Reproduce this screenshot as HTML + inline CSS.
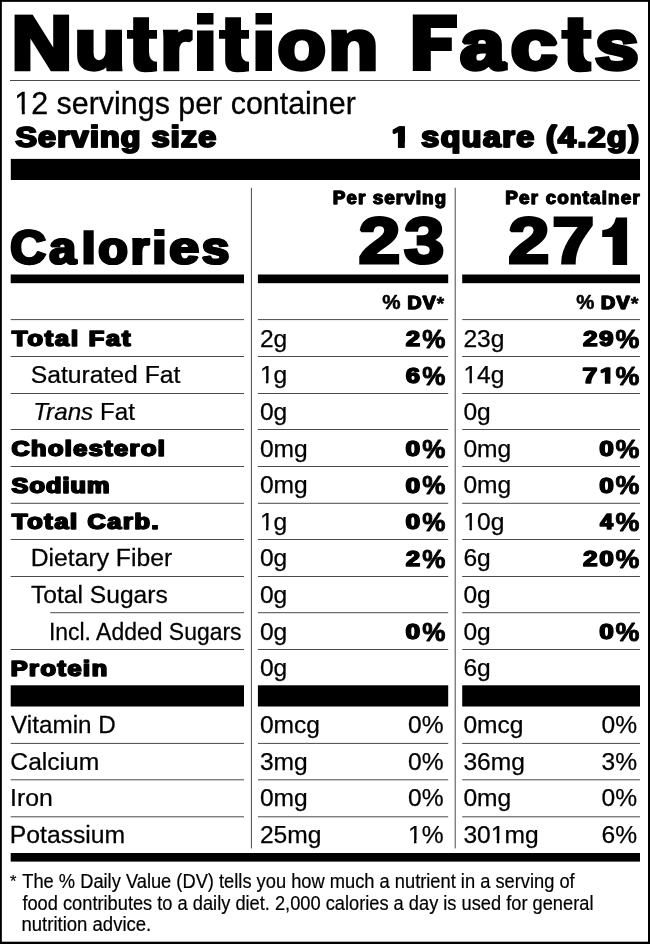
<!DOCTYPE html>
<html lang="en"><head><meta charset="utf-8"><title>Nutrition Facts</title>
<style>html,body{margin:0;padding:0;background:#fff}body{width:650px;height:944px;overflow:hidden}svg{display:block;will-change:transform;filter:grayscale(1);font-family:"Liberation Sans",sans-serif}text{fill:#000;stroke:#000;stroke-linejoin:miter;stroke-miterlimit:1.5;white-space:pre}</style></head><body>
<svg width="650" height="944" viewBox="0 0 650 944">
<rect x="0" y="0" width="650" height="944" fill="#fff"/>
<g fill="#000">
<rect x="0" y="0" width="650" height="1.85"/>
<rect x="0" y="0" width="1.85" height="944"/>
<rect x="648" y="0" width="2" height="944"/>
<rect x="0" y="941.7" width="650" height="2.3"/>
<rect x="10.8" y="158.9" width="629.2" height="21.1"/>
<rect x="10.7" y="274.5" width="233.3" height="8.7"/>
<rect x="257.9" y="274.5" width="190.3" height="8.7"/>
<rect x="462.2" y="274.5" width="177.8" height="8.7"/>
<rect x="10.7" y="685.3" width="233.3" height="21.2"/>
<rect x="257.9" y="685.3" width="190.3" height="21.2"/>
<rect x="462.2" y="685.3" width="177.8" height="21.2"/>
<rect x="10.7" y="853" width="629.3" height="8.6"/>
</g>
<g fill="#4a4a4a">
<rect x="10" y="80" width="630" height="1"/>
<rect x="250.9" y="187.8" width="1" height="660.6"/>
<rect x="454.7" y="187.8" width="1" height="660.6"/>
<rect x="10.7" y="319.1" width="233.3" height="1"/>
<rect x="257.9" y="319.1" width="190.3" height="1"/>
<rect x="462.2" y="319.1" width="177.8" height="1"/>
<rect x="10.7" y="356" width="233.3" height="1"/>
<rect x="257.9" y="356" width="190.3" height="1"/>
<rect x="462.2" y="356" width="177.8" height="1"/>
<rect x="10.7" y="393" width="233.3" height="1"/>
<rect x="257.9" y="393" width="190.3" height="1"/>
<rect x="462.2" y="393" width="177.8" height="1"/>
<rect x="10.7" y="429" width="233.3" height="1"/>
<rect x="257.9" y="429" width="190.3" height="1"/>
<rect x="462.2" y="429" width="177.8" height="1"/>
<rect x="10.7" y="466" width="233.3" height="1"/>
<rect x="257.9" y="466" width="190.3" height="1"/>
<rect x="462.2" y="466" width="177.8" height="1"/>
<rect x="10.7" y="502.8" width="233.3" height="1"/>
<rect x="257.9" y="502.8" width="190.3" height="1"/>
<rect x="462.2" y="502.8" width="177.8" height="1"/>
<rect x="10.7" y="539" width="233.3" height="1"/>
<rect x="257.9" y="539" width="190.3" height="1"/>
<rect x="462.2" y="539" width="177.8" height="1"/>
<rect x="10.7" y="576" width="233.3" height="1"/>
<rect x="257.9" y="576" width="190.3" height="1"/>
<rect x="462.2" y="576" width="177.8" height="1"/>
<rect x="50.2" y="612.2" width="193.8" height="1"/>
<rect x="257.9" y="612.2" width="190.3" height="1"/>
<rect x="462.2" y="612.2" width="177.8" height="1"/>
<rect x="10.7" y="649" width="233.3" height="1"/>
<rect x="257.9" y="649" width="190.3" height="1"/>
<rect x="462.2" y="649" width="177.8" height="1"/>
<rect x="10.7" y="742.9" width="233.3" height="1"/>
<rect x="257.9" y="742.9" width="190.3" height="1"/>
<rect x="462.2" y="742.9" width="177.8" height="1"/>
<rect x="10.7" y="779.3" width="233.3" height="1"/>
<rect x="257.9" y="779.3" width="190.3" height="1"/>
<rect x="462.2" y="779.3" width="177.8" height="1"/>
<rect x="10.7" y="816.3" width="233.3" height="1"/>
<rect x="257.9" y="816.3" width="190.3" height="1"/>
<rect x="462.2" y="816.3" width="177.8" height="1"/>
</g>
<g id="tl0" class="t" clip-path="url(#ctl0)"><text transform="translate(11.52 68.6) scale(1.114 1)" font-size="75.4" font-weight="bold" stroke-width="4.6" letter-spacing="1">N</text></g>
<g id="tl1" class="t" clip-path="url(#ctl1)"><text transform="translate(74.62 68.6) scale(1.1027 0.925)" font-size="75.4" font-weight="bold" stroke-width="4.6" letter-spacing="1">u</text></g>
<g id="tl2" class="t" clip-path="url(#ctl2)"><text transform="translate(128.48 68.6) scale(1.0763 1)" font-size="75.4" font-weight="bold" stroke-width="4.6" letter-spacing="1" style="fill:none;stroke:none">t</text></g>
<g id="tl3" class="t" clip-path="url(#ctl3)"><text transform="translate(160.2 68.6) scale(1.0627 0.925)" font-size="75.4" font-weight="bold" stroke-width="4.6" letter-spacing="1">r</text></g>
<g id="tl4" class="t" clip-path="url(#ctl4)"><text transform="translate(191.37 68.6) scale(1.1915 1)" font-size="75.4" font-weight="bold" stroke-width="4.6" letter-spacing="1" style="fill:none;stroke:none">i</text></g>
<g id="tl5" class="t" clip-path="url(#ctl5)"><text transform="translate(220.57 68.6) scale(1.0781 1)" font-size="75.4" font-weight="bold" stroke-width="4.6" letter-spacing="1" style="fill:none;stroke:none">t</text></g>
<g id="tl6" class="t" clip-path="url(#ctl6)"><text transform="translate(251.11 68.6) scale(1.1705 1)" font-size="75.4" font-weight="bold" stroke-width="4.6" letter-spacing="1" style="fill:none;stroke:none">i</text></g>
<g id="tl7" class="t" clip-path="url(#ctl7)"><text transform="translate(277.43 68.6) scale(1.0519 0.925)" font-size="75.4" font-weight="bold" stroke-width="4.6" letter-spacing="1">o</text></g>
<g id="tl8" class="t" clip-path="url(#ctl8)"><text transform="translate(328.13 68.6) scale(1.0873 0.925)" font-size="75.4" font-weight="bold" stroke-width="4.6" letter-spacing="1">n</text></g>
<g id="tl9" class="t" clip-path="url(#ctl9)"><text transform="translate(410.21 68.6) scale(1.0121 1)" font-size="75.4" font-weight="bold" stroke-width="4.6" letter-spacing="1" style="fill:none;stroke:none">F</text></g>
<g id="tl10" class="t" clip-path="url(#ctl10)"><text transform="translate(460 68.6) scale(1.0701 0.925)" font-size="75.4" font-weight="bold" stroke-width="4.6" letter-spacing="1">a</text></g>
<g id="tl11" class="t" clip-path="url(#ctl11)"><text transform="translate(510.62 68.6) scale(1.1272 0.925)" font-size="75.4" font-weight="bold" stroke-width="4.6" letter-spacing="1">c</text></g>
<g id="tl12" class="t" clip-path="url(#ctl12)"><text transform="translate(562.72 68.6) scale(1.0956 1)" font-size="75.4" font-weight="bold" stroke-width="4.6" letter-spacing="1" style="fill:none;stroke:none">t</text></g>
<g id="tl13" class="t" clip-path="url(#ctl13)"><text transform="translate(594.88 68.6) scale(1.0443 0.925)" font-size="75.4" font-weight="bold" stroke-width="4.6" letter-spacing="1">s</text></g>
<g id="servings" class="t"><text transform="translate(14.33 113.65) scale(0.9912 1)" font-size="30.7" stroke-width="0.3">12 servings per container</text></g>
<g id="servsize" class="t"><text transform="translate(14.96 146.55) scale(1.12 1)" font-size="28.7" font-weight="bold" stroke-width="1.5" letter-spacing="1.06">Serving size</text><text transform="translate(15.96 146.55) scale(1.12 1)" font-size="28.7" font-weight="bold" stroke-width="1.5" letter-spacing="1.06">Serving size</text></g>
<g id="servamt" class="t"><text transform="translate(639.86 146.55) scale(1.12 1)" font-size="28.7" font-weight="bold" text-anchor="end" stroke-width="1.5" letter-spacing="1.3">1 square (4.2g)</text><text transform="translate(640.86 146.55) scale(1.12 1)" font-size="28.7" font-weight="bold" text-anchor="end" stroke-width="1.5" letter-spacing="1.3">1 square (4.2g)</text></g>
<g id="perserv" class="t"><text transform="translate(446.96 204.1) scale(1.05 1)" font-size="17.7" font-weight="bold" text-anchor="end" stroke-width="0.8" letter-spacing="1.15">Per serving</text><text transform="translate(447.66 204.1) scale(1.05 1)" font-size="17.7" font-weight="bold" text-anchor="end" stroke-width="0.8" letter-spacing="1.15">Per serving</text></g>
<g id="percont" class="t"><text transform="translate(640.66 204.1) scale(1.05 1)" font-size="17.7" font-weight="bold" text-anchor="end" stroke-width="0.8" letter-spacing="1.24">Per container</text><text transform="translate(641.36 204.1) scale(1.05 1)" font-size="17.7" font-weight="bold" text-anchor="end" stroke-width="0.8" letter-spacing="1.24">Per container</text></g>
<g id="cl0" class="t"><text transform="translate(9.86 263.5) scale(1.0439 1.035)" font-size="47" font-weight="bold" stroke-width="2.2" letter-spacing="0.8">C</text><text transform="translate(11.06 263.5) scale(1.0439 1.035)" font-size="47" font-weight="bold" stroke-width="2.2" letter-spacing="0.8">C</text></g>
<g id="cl1" class="t"><text transform="translate(48.66 263.5) scale(1.0256 1)" font-size="47" font-weight="bold" stroke-width="2.2" letter-spacing="0.8">a</text><text transform="translate(49.86 263.5) scale(1.0256 1)" font-size="47" font-weight="bold" stroke-width="2.2" letter-spacing="0.8">a</text></g>
<g id="cl2" class="t"><text transform="translate(80.9 263.5) scale(1.12 1)" font-size="47" font-weight="bold" stroke-width="2.2" letter-spacing="0.8" style="fill:none;stroke:none">l</text><text transform="translate(82.1 263.5) scale(1.12 1)" font-size="47" font-weight="bold" stroke-width="2.2" letter-spacing="0.8" style="fill:none;stroke:none" style="fill:none;stroke:none">l</text></g>
<g id="cl3" class="t"><text transform="translate(97.68 263.5) scale(1.0219 1)" font-size="47" font-weight="bold" stroke-width="2.2" letter-spacing="0.8">o</text><text transform="translate(98.88 263.5) scale(1.0219 1)" font-size="47" font-weight="bold" stroke-width="2.2" letter-spacing="0.8">o</text></g>
<g id="cl4" class="t"><text transform="translate(130.31 263.5) scale(1.0029 1)" font-size="47" font-weight="bold" stroke-width="2.2" letter-spacing="0.8">r</text><text transform="translate(131.51 263.5) scale(1.0029 1)" font-size="47" font-weight="bold" stroke-width="2.2" letter-spacing="0.8">r</text></g>
<g id="cl5" class="t"><text transform="translate(151.6 263.5) scale(1.12 1)" font-size="47" font-weight="bold" stroke-width="2.2" letter-spacing="0.8" style="fill:none;stroke:none">i</text><text transform="translate(152.8 263.5) scale(1.12 1)" font-size="47" font-weight="bold" stroke-width="2.2" letter-spacing="0.8" style="fill:none;stroke:none" style="fill:none;stroke:none">i</text></g>
<g id="cl6" class="t"><text transform="translate(168.76 263.5) scale(1.1328 1)" font-size="47" font-weight="bold" stroke-width="2.2" letter-spacing="0.8">e</text><text transform="translate(169.96 263.5) scale(1.1328 1)" font-size="47" font-weight="bold" stroke-width="2.2" letter-spacing="0.8">e</text></g>
<g id="cl7" class="t"><text transform="translate(201.21 263.5) scale(1.0444 1)" font-size="47" font-weight="bold" stroke-width="2.2" letter-spacing="0.8">s</text><text transform="translate(202.41 263.5) scale(1.0444 1)" font-size="47" font-weight="bold" stroke-width="2.2" letter-spacing="0.8">s</text></g>
<g id="cn0" class="t"><text transform="translate(358.46 263.1) scale(1.1597 1)" font-size="64.8" font-weight="bold" stroke-width="3.2">2</text></g>
<g id="cn1" class="t"><text transform="translate(404.12 263.1) scale(1.1169 1)" font-size="64.8" font-weight="bold" stroke-width="3.2">3</text></g>
<g id="cn2" class="t"><text transform="translate(508.18 263.1) scale(1.1412 1)" font-size="64.8" font-weight="bold" stroke-width="3.2">2</text></g>
<g id="cn3" class="t"><text transform="translate(552.21 263.1) scale(1.1642 1)" font-size="64.8" font-weight="bold" stroke-width="3.2">7</text></g>
<g id="dv2" class="t"><text transform="translate(406.93 308.7) scale(1.12 1)" font-size="17.6" font-weight="bold" stroke-width="0.8" letter-spacing="0.89">DV</text><text transform="translate(407.83 308.7) scale(1.12 1)" font-size="17.6" font-weight="bold" stroke-width="0.8" letter-spacing="0.89">DV</text></g>
<g id="dv3" class="t"><text transform="translate(600.62 308.7) scale(1.12 1)" font-size="17.6" font-weight="bold" stroke-width="0.8" letter-spacing="1.13">DV</text><text transform="translate(601.52 308.7) scale(1.12 1)" font-size="17.6" font-weight="bold" stroke-width="0.8" letter-spacing="1.13">DV</text></g>
<g id="dvp2" class="t"><text transform="translate(382.16 309.25) scale(1.0408 1)" font-size="19.8" font-weight="bold" stroke-width="0.5">%</text></g>
<g id="dvp3" class="t"><text transform="translate(576.17 309.25) scale(1.0305 1)" font-size="19.8" font-weight="bold" stroke-width="0.5">%</text></g>
<g id="dvs2" class="t"><text transform="translate(436.85 309.56) scale(1.0045 1)" font-size="19" font-weight="bold" stroke-width="0.5">*</text></g>
<g id="dvs3" class="t"><text transform="translate(630.65 309.56) scale(1.0485 1)" font-size="19" font-weight="bold" stroke-width="0.5">*</text></g>
<g id="lab0" class="t"><text transform="translate(11.6 346.1) scale(1.1 1)" font-size="22.9" font-weight="bold" stroke-width="1.2" letter-spacing="1.72" font-kerning="none">Total Fat</text><text transform="translate(12.6 346.1) scale(1.1 1)" font-size="22.9" font-weight="bold" stroke-width="1.2" letter-spacing="1.72" font-kerning="none">Total Fat</text></g>
<g id="v2_0" class="t"><text transform="translate(259.9 346.57) scale(1 1)" font-size="24.6" stroke-width="0.25">2g</text></g>
<g id="v3_0" class="t"><text transform="translate(463.4 346.57) scale(1 1)" font-size="24.6" stroke-width="0.25">23g</text></g>
<g id="p2_0" class="t"><text transform="translate(419.99 346.1) scale(1.1279 1)" font-size="22.6" font-weight="bold" text-anchor="end" stroke-width="1.2" letter-spacing="0.3">2</text><text transform="translate(420.79 346.1) scale(1.1279 1)" font-size="22.6" font-weight="bold" text-anchor="end" stroke-width="1.2" letter-spacing="0.3">2</text></g>
<g id="q2_0" class="t"><text transform="translate(422.3 347.85) scale(0.9994 1)" font-size="26.1" font-weight="bold" stroke-width="0.9">%</text></g>
<g id="p3_0" class="t"><text transform="translate(615 346.1) scale(1.14 1)" font-size="22.6" font-weight="bold" text-anchor="end" stroke-width="1.2" letter-spacing="1.63">29</text><text transform="translate(615.8 346.1) scale(1.14 1)" font-size="22.6" font-weight="bold" text-anchor="end" stroke-width="1.2" letter-spacing="1.63">29</text></g>
<g id="q3_0" class="t"><text transform="translate(615.61 347.85) scale(1.0303 1)" font-size="26.1" font-weight="bold" stroke-width="0.9">%</text></g>
<g id="lab1" class="t"><text transform="translate(30.66 383.22) scale(1.0049 1)" font-size="24.6" stroke-width="0.25">Saturated Fat</text></g>
<g id="v2_1" class="t"><text transform="translate(259.9 383.22) scale(1 1)" font-size="24.6" stroke-width="0.25">1g</text></g>
<g id="v3_1" class="t"><text transform="translate(463.4 383.22) scale(1 1)" font-size="24.6" stroke-width="0.25">14g</text></g>
<g id="p2_1" class="t"><text transform="translate(419.84 382.75) scale(1.1202 1)" font-size="22.6" font-weight="bold" text-anchor="end" stroke-width="1.2" letter-spacing="0.3">6</text><text transform="translate(420.64 382.75) scale(1.1202 1)" font-size="22.6" font-weight="bold" text-anchor="end" stroke-width="1.2" letter-spacing="0.3">6</text></g>
<g id="q2_1" class="t"><text transform="translate(422.3 384.5) scale(0.9994 1)" font-size="26.1" font-weight="bold" stroke-width="0.9">%</text></g>
<g id="p3_1" class="t"><text transform="translate(616.56 382.75) scale(1.14 1)" font-size="22.6" font-weight="bold" text-anchor="end" stroke-width="1.2" letter-spacing="2.44">71</text><text transform="translate(617.36 382.75) scale(1.14 1)" font-size="22.6" font-weight="bold" text-anchor="end" stroke-width="1.2" letter-spacing="2.44">71</text></g>
<g id="q3_1" class="t"><text transform="translate(615.61 384.5) scale(1.0303 1)" font-size="26.1" font-weight="bold" stroke-width="0.9">%</text></g>
<g id="lab2" class="t"><text transform="translate(33.14 419.88) scale(0.9837 1)" font-size="24.6" stroke-width="0.25"><tspan font-style="italic">Trans</tspan> Fat</text></g>
<g id="v2_2" class="t"><text transform="translate(259.9 419.88) scale(1 1)" font-size="24.6" stroke-width="0.25">0g</text></g>
<g id="v3_2" class="t"><text transform="translate(463.4 419.88) scale(1 1)" font-size="24.6" stroke-width="0.25">0g</text></g>
<g id="lab3" class="t"><text transform="translate(10.88 456.05) scale(1.1 1)" font-size="22.9" font-weight="bold" stroke-width="1.2" letter-spacing="1.35" font-kerning="none">Cholesterol</text><text transform="translate(11.88 456.05) scale(1.1 1)" font-size="22.9" font-weight="bold" stroke-width="1.2" letter-spacing="1.35" font-kerning="none">Cholesterol</text></g>
<g id="v2_3" class="t"><text transform="translate(259.9 456.52) scale(1 1)" font-size="24.6" stroke-width="0.25">0mg</text></g>
<g id="v3_3" class="t"><text transform="translate(463.4 456.52) scale(1 1)" font-size="24.6" stroke-width="0.25">0mg</text></g>
<g id="p2_3" class="t"><text transform="translate(420.03 456.05) scale(1.1519 1)" font-size="22.6" font-weight="bold" text-anchor="end" stroke-width="1.2" letter-spacing="0.3">0</text><text transform="translate(420.83 456.05) scale(1.1519 1)" font-size="22.6" font-weight="bold" text-anchor="end" stroke-width="1.2" letter-spacing="0.3">0</text></g>
<g id="q2_3" class="t"><text transform="translate(422.3 457.8) scale(0.9994 1)" font-size="26.1" font-weight="bold" stroke-width="0.9">%</text></g>
<g id="p3_3" class="t"><text transform="translate(613.69 456.05) scale(1.1416 1)" font-size="22.6" font-weight="bold" text-anchor="end" stroke-width="1.2" letter-spacing="0.3">0</text><text transform="translate(614.49 456.05) scale(1.1416 1)" font-size="22.6" font-weight="bold" text-anchor="end" stroke-width="1.2" letter-spacing="0.3">0</text></g>
<g id="q3_3" class="t"><text transform="translate(615.61 457.8) scale(1.0303 1)" font-size="26.1" font-weight="bold" stroke-width="0.9">%</text></g>
<g id="lab4" class="t"><text transform="translate(11.06 492.7) scale(1.1 1)" font-size="22.9" font-weight="bold" stroke-width="1.2" letter-spacing="0.99" font-kerning="none">Sodium</text><text transform="translate(12.06 492.7) scale(1.1 1)" font-size="22.9" font-weight="bold" stroke-width="1.2" letter-spacing="0.99" font-kerning="none">Sodium</text></g>
<g id="v2_4" class="t"><text transform="translate(259.9 493.17) scale(1 1)" font-size="24.6" stroke-width="0.25">0mg</text></g>
<g id="v3_4" class="t"><text transform="translate(463.4 493.17) scale(1 1)" font-size="24.6" stroke-width="0.25">0mg</text></g>
<g id="p2_4" class="t"><text transform="translate(420.03 492.7) scale(1.1519 1)" font-size="22.6" font-weight="bold" text-anchor="end" stroke-width="1.2" letter-spacing="0.3">0</text><text transform="translate(420.83 492.7) scale(1.1519 1)" font-size="22.6" font-weight="bold" text-anchor="end" stroke-width="1.2" letter-spacing="0.3">0</text></g>
<g id="q2_4" class="t"><text transform="translate(422.3 494.45) scale(0.9994 1)" font-size="26.1" font-weight="bold" stroke-width="0.9">%</text></g>
<g id="p3_4" class="t"><text transform="translate(613.69 492.7) scale(1.1416 1)" font-size="22.6" font-weight="bold" text-anchor="end" stroke-width="1.2" letter-spacing="0.3">0</text><text transform="translate(614.49 492.7) scale(1.1416 1)" font-size="22.6" font-weight="bold" text-anchor="end" stroke-width="1.2" letter-spacing="0.3">0</text></g>
<g id="q3_4" class="t"><text transform="translate(615.61 494.45) scale(1.0303 1)" font-size="26.1" font-weight="bold" stroke-width="0.9">%</text></g>
<g id="lab5" class="t"><text transform="translate(11.6 529.35) scale(1.1 1)" font-size="22.9" font-weight="bold" stroke-width="1.2" letter-spacing="1.52" font-kerning="none">Total Carb.</text><text transform="translate(12.6 529.35) scale(1.1 1)" font-size="22.9" font-weight="bold" stroke-width="1.2" letter-spacing="1.52" font-kerning="none">Total Carb.</text></g>
<g id="v2_5" class="t"><text transform="translate(259.9 529.83) scale(1 1)" font-size="24.6" stroke-width="0.25">1g</text></g>
<g id="v3_5" class="t"><text transform="translate(463.4 529.83) scale(1 1)" font-size="24.6" stroke-width="0.25">10g</text></g>
<g id="p2_5" class="t"><text transform="translate(420.03 529.35) scale(1.1519 1)" font-size="22.6" font-weight="bold" text-anchor="end" stroke-width="1.2" letter-spacing="0.3">0</text><text transform="translate(420.83 529.35) scale(1.1519 1)" font-size="22.6" font-weight="bold" text-anchor="end" stroke-width="1.2" letter-spacing="0.3">0</text></g>
<g id="q2_5" class="t"><text transform="translate(422.3 531.1) scale(0.9994 1)" font-size="26.1" font-weight="bold" stroke-width="0.9">%</text></g>
<g id="p3_5" class="t"><text transform="translate(612.81 529.35) scale(1.0196 1)" font-size="22.6" font-weight="bold" text-anchor="end" stroke-width="1.2" letter-spacing="0.3">4</text><text transform="translate(613.61 529.35) scale(1.0196 1)" font-size="22.6" font-weight="bold" text-anchor="end" stroke-width="1.2" letter-spacing="0.3">4</text></g>
<g id="q3_5" class="t"><text transform="translate(615.61 531.1) scale(1.0303 1)" font-size="26.1" font-weight="bold" stroke-width="0.9">%</text></g>
<g id="lab6" class="t"><text transform="translate(30.77 566.47) scale(1.0046 1)" font-size="24.6" stroke-width="0.25">Dietary Fiber</text></g>
<g id="v2_6" class="t"><text transform="translate(259.9 566.47) scale(1 1)" font-size="24.6" stroke-width="0.25">0g</text></g>
<g id="v3_6" class="t"><text transform="translate(463.4 566.47) scale(1 1)" font-size="24.6" stroke-width="0.25">6g</text></g>
<g id="p2_6" class="t"><text transform="translate(419.99 566) scale(1.1279 1)" font-size="22.6" font-weight="bold" text-anchor="end" stroke-width="1.2" letter-spacing="0.3">2</text><text transform="translate(420.79 566) scale(1.1279 1)" font-size="22.6" font-weight="bold" text-anchor="end" stroke-width="1.2" letter-spacing="0.3">2</text></g>
<g id="q2_6" class="t"><text transform="translate(422.3 567.75) scale(0.9994 1)" font-size="26.1" font-weight="bold" stroke-width="0.9">%</text></g>
<g id="p3_6" class="t"><text transform="translate(615.39 566) scale(1.14 1)" font-size="22.6" font-weight="bold" text-anchor="end" stroke-width="1.2" letter-spacing="1.79">20</text><text transform="translate(616.19 566) scale(1.14 1)" font-size="22.6" font-weight="bold" text-anchor="end" stroke-width="1.2" letter-spacing="1.79">20</text></g>
<g id="q3_6" class="t"><text transform="translate(615.61 567.75) scale(1.0303 1)" font-size="26.1" font-weight="bold" stroke-width="0.9">%</text></g>
<g id="lab7" class="t"><text transform="translate(30.93 603.12) scale(1.0009 1)" font-size="24.6" stroke-width="0.25">Total Sugars</text></g>
<g id="v2_7" class="t"><text transform="translate(259.9 603.12) scale(1 1)" font-size="24.6" stroke-width="0.25">0g</text></g>
<g id="v3_7" class="t"><text transform="translate(463.4 603.12) scale(1 1)" font-size="24.6" stroke-width="0.25">0g</text></g>
<g id="lab8" class="t"><text transform="translate(48.92 639.77) scale(0.933 1)" font-size="24.6" stroke-width="0.25">Incl. Added Sugars</text></g>
<g id="v2_8" class="t"><text transform="translate(259.9 639.77) scale(1 1)" font-size="24.6" stroke-width="0.25">0g</text></g>
<g id="v3_8" class="t"><text transform="translate(463.4 639.77) scale(1 1)" font-size="24.6" stroke-width="0.25">0g</text></g>
<g id="p2_8" class="t"><text transform="translate(420.03 639.3) scale(1.1519 1)" font-size="22.6" font-weight="bold" text-anchor="end" stroke-width="1.2" letter-spacing="0.3">0</text><text transform="translate(420.83 639.3) scale(1.1519 1)" font-size="22.6" font-weight="bold" text-anchor="end" stroke-width="1.2" letter-spacing="0.3">0</text></g>
<g id="q2_8" class="t"><text transform="translate(422.3 641.05) scale(0.9994 1)" font-size="26.1" font-weight="bold" stroke-width="0.9">%</text></g>
<g id="p3_8" class="t"><text transform="translate(613.69 639.3) scale(1.1416 1)" font-size="22.6" font-weight="bold" text-anchor="end" stroke-width="1.2" letter-spacing="0.3">0</text><text transform="translate(614.49 639.3) scale(1.1416 1)" font-size="22.6" font-weight="bold" text-anchor="end" stroke-width="1.2" letter-spacing="0.3">0</text></g>
<g id="q3_8" class="t"><text transform="translate(615.61 641.05) scale(1.0303 1)" font-size="26.1" font-weight="bold" stroke-width="0.9">%</text></g>
<g id="lab9" class="t"><text transform="translate(10.21 675.95) scale(1.1 1)" font-size="22.9" font-weight="bold" stroke-width="1.2" letter-spacing="1.45" font-kerning="none">Protein</text><text transform="translate(11.21 675.95) scale(1.1 1)" font-size="22.9" font-weight="bold" stroke-width="1.2" letter-spacing="1.45" font-kerning="none">Protein</text></g>
<g id="v2_9" class="t"><text transform="translate(259.9 676.42) scale(1 1)" font-size="24.6" stroke-width="0.25">0g</text></g>
<g id="v3_9" class="t"><text transform="translate(463.4 676.42) scale(1 1)" font-size="24.6" stroke-width="0.25">6g</text></g>
<g id="vlab0" class="t"><text transform="translate(11.11 732.88) scale(0.987 1)" font-size="24.6" stroke-width="0.25">Vitamin D</text></g>
<g id="vv2_0" class="t"><text transform="translate(259.9 732.88) scale(1 1)" font-size="24.6" stroke-width="0.25">0mcg</text></g>
<g id="vv3_0" class="t"><text transform="translate(463.4 732.88) scale(1 1)" font-size="24.6" stroke-width="0.25">0mcg</text></g>
<g id="vp2_0" class="t"><text transform="translate(443.5 732.88) scale(1 1)" font-size="24.6" text-anchor="end" stroke-width="0.25">0%</text></g>
<g id="vp3_0" class="t"><text transform="translate(637 732.88) scale(1 1)" font-size="24.6" text-anchor="end" stroke-width="0.25">0%</text></g>
<g id="vlab1" class="t"><text transform="translate(10.36 769.67) scale(1.0013 1)" font-size="24.6" stroke-width="0.25">Calcium</text></g>
<g id="vv2_1" class="t"><text transform="translate(259.9 769.67) scale(1 1)" font-size="24.6" stroke-width="0.25">3mg</text></g>
<g id="vv3_1" class="t"><text transform="translate(463.4 769.67) scale(1 1)" font-size="24.6" stroke-width="0.25">36mg</text></g>
<g id="vp2_1" class="t"><text transform="translate(443.5 769.67) scale(1 1)" font-size="24.6" text-anchor="end" stroke-width="0.25">0%</text></g>
<g id="vp3_1" class="t"><text transform="translate(637 769.67) scale(1 1)" font-size="24.6" text-anchor="end" stroke-width="0.25">3%</text></g>
<g id="vlab2" class="t"><text transform="translate(10.03 806.17) scale(1.009 1)" font-size="24.6" stroke-width="0.25">Iron</text></g>
<g id="vv2_2" class="t"><text transform="translate(259.9 806.17) scale(1 1)" font-size="24.6" stroke-width="0.25">0mg</text></g>
<g id="vv3_2" class="t"><text transform="translate(463.4 806.17) scale(1 1)" font-size="24.6" stroke-width="0.25">0mg</text></g>
<g id="vp2_2" class="t"><text transform="translate(443.5 806.17) scale(1 1)" font-size="24.6" text-anchor="end" stroke-width="0.25">0%</text></g>
<g id="vp3_2" class="t"><text transform="translate(637 806.17) scale(1 1)" font-size="24.6" text-anchor="end" stroke-width="0.25">0%</text></g>
<g id="vlab3" class="t"><text transform="translate(9.77 842.58) scale(1.006 1)" font-size="24.6" stroke-width="0.25">Potassium</text></g>
<g id="vv2_3" class="t"><text transform="translate(259.9 842.58) scale(1 1)" font-size="24.6" stroke-width="0.25">25mg</text></g>
<g id="vv3_3" class="t"><text transform="translate(463.4 842.58) scale(1 1)" font-size="24.6" stroke-width="0.25">301mg</text></g>
<g id="vp2_3" class="t"><text transform="translate(443.5 842.58) scale(1 1)" font-size="24.6" text-anchor="end" stroke-width="0.25">1%</text></g>
<g id="vp3_3" class="t"><text transform="translate(637 842.58) scale(1 1)" font-size="24.6" text-anchor="end" stroke-width="0.25">6%</text></g>
<g id="fstar" class="t"><text transform="translate(10 886.5) scale(1 1)" font-size="16.5" stroke-width="0.2">*</text></g>
<g id="f1" class="t"><text transform="translate(22.26 887.8) scale(0.9384 1)" font-size="19.5" stroke-width="0.2">The % Daily Value (DV) tells you how much a nutrient in a serving of</text></g>
<g id="f2" class="t"><text transform="translate(22.38 909.5) scale(0.9365 1)" font-size="19.5" stroke-width="0.2">food contributes to a daily diet. 2,000 calories a day is used for general</text></g>
<g id="f3" class="t"><text transform="translate(21.51 930.9) scale(0.9503 1)" font-size="19.5" stroke-width="0.2">nutrition advice.</text></g>
<defs><clipPath id="ctl0"><rect x="0" y="14.4" width="650" height="200"/></clipPath><clipPath id="ctl1"><rect x="0" y="12.8" width="650" height="200"/></clipPath><clipPath id="ctl2"><rect x="0" y="17.3" width="650" height="200"/></clipPath><clipPath id="ctl3"><rect x="0" y="12.8" width="650" height="200"/></clipPath><clipPath id="ctl4"><rect x="0" y="12.8" width="650" height="200"/></clipPath><clipPath id="ctl5"><rect x="0" y="17.3" width="650" height="200"/></clipPath><clipPath id="ctl6"><rect x="0" y="12.8" width="650" height="200"/></clipPath><clipPath id="ctl7"><rect x="0" y="12.8" width="650" height="200"/></clipPath><clipPath id="ctl8"><rect x="0" y="12.8" width="650" height="200"/></clipPath><clipPath id="ctl9"><rect x="0" y="12.8" width="650" height="200"/></clipPath><clipPath id="ctl10"><rect x="0" y="12.8" width="650" height="200"/></clipPath><clipPath id="ctl11"><rect x="0" y="12.8" width="650" height="200"/></clipPath><clipPath id="ctl12"><rect x="0" y="17.3" width="650" height="200"/></clipPath><clipPath id="ctl13"><rect x="0" y="12.8" width="650" height="200"/></clipPath></defs>
<g fill="#fff">
<rect x="14.9" y="110.61" width="6.93" height="5.19"/>
<rect x="24.82" y="110.61" width="6.7" height="5.19"/>
<rect x="390.82" y="142.27" width="7.08" height="7.03"/>
<rect x="404.81" y="142.27" width="6.67" height="7.03"/>
<rect x="260.05" y="380.66" width="5.91" height="4.69"/>
<rect x="268.39" y="380.66" width="5.72" height="4.69"/>
<rect x="463.55" y="380.66" width="5.91" height="4.69"/>
<rect x="471.89" y="380.66" width="5.72" height="4.69"/>
<rect x="598.87" y="379.24" width="5.99" height="6.11"/>
<rect x="610.4" y="379.24" width="5.66" height="6.11"/>
<rect x="260.05" y="527.27" width="5.91" height="4.69"/>
<rect x="268.39" y="527.27" width="5.72" height="4.69"/>
<rect x="463.55" y="527.27" width="5.91" height="4.69"/>
<rect x="471.89" y="527.27" width="5.72" height="4.69"/>
<rect x="490.89" y="840.02" width="5.91" height="4.69"/>
<rect x="499.23" y="840.02" width="5.72" height="4.69"/>
<rect x="408.1" y="840.02" width="5.91" height="4.69"/>
<rect x="416.44" y="840.02" width="5.72" height="4.69"/>
</g>
<path d="M612.6 237H602.2V230.3Q613.5 229.5 616 217.4H627.1V264.9H612.6Z" fill="#000"/>
<path d="M197 13H213.5V24.5H197ZM197 30.5H213.5V71.1H197ZM255.5 13H272V24.5H255.5ZM255.5 30.5H272V71.1H255.5ZM412.8 14.5H457V28H430.8V37.5H451.8V51H430.8V71.1H412.8ZM133.2 17.3H149V30H157V38.8H149V52Q149 61.8 157 61.8V71.2Q152 72.2 145 72.2Q133.2 72.2 133.2 60V38.8H127V30H133.2ZM225.2 17.3H241V30H249V38.8H241V52Q241 61.8 249 61.8V71.2Q244 72.2 237 72.2Q225.2 72.2 225.2 60V38.8H219V30H225.2ZM567.6 17.3H583.4V30H591.4V38.8H583.4V52Q583.4 61.8 591.4 61.8V71.2Q586.4 72.2 579.4 72.2Q567.6 72.2 567.6 60V38.8H561.4V30H567.6Z" fill="#000"/>
<path d="M83.5 230.2H93.7V264.6H83.5ZM154.2 229H164.5V236H154.2ZM154.2 239.5H164.5V264.6H154.2Z" fill="#000"/>
</svg></body></html>
